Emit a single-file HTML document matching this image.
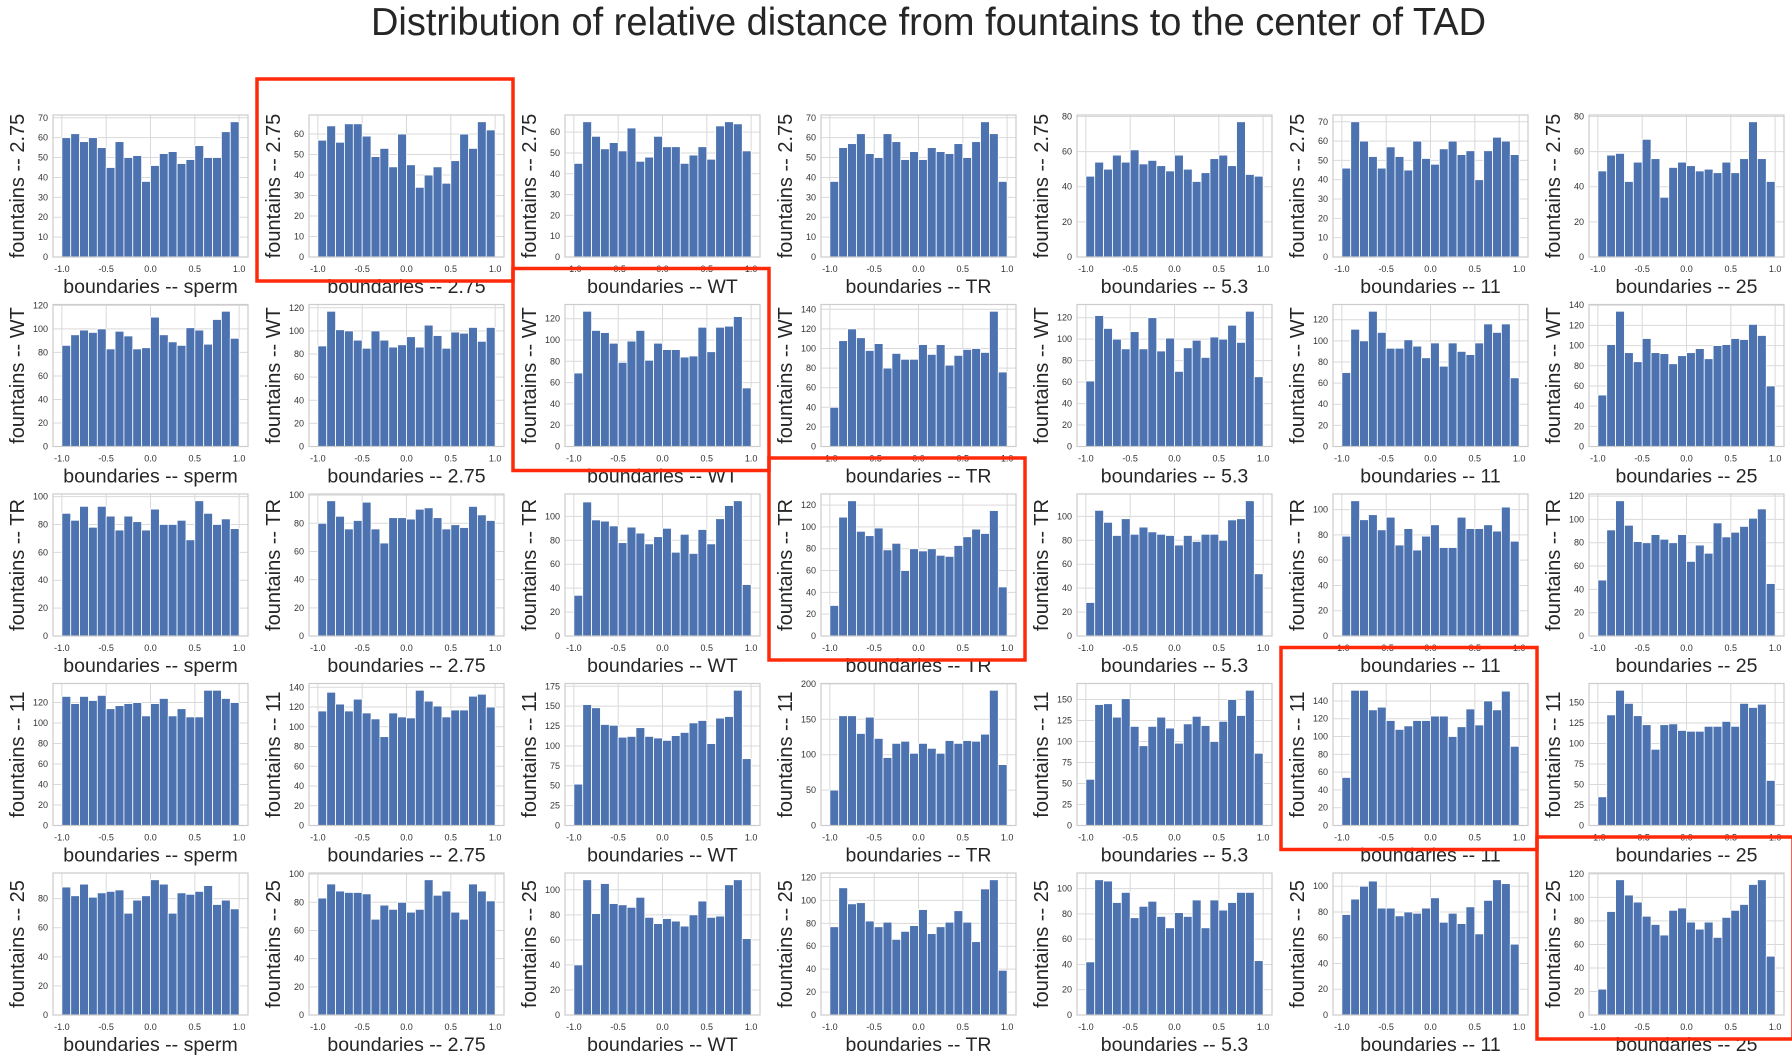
<!DOCTYPE html>
<html><head><meta charset="utf-8"><style>
html,body{margin:0;padding:0;background:#fff;}
svg{display:block;font-family:"Liberation Sans",Arial,sans-serif;}
</style></head><body>
<svg id="fig" width="1792" height="1062" viewBox="0 0 1792 1062" xmlns="http://www.w3.org/2000/svg">
<text x="371" y="35" font-size="39" fill="#262626" textLength="1115" lengthAdjust="spacingAndGlyphs">Distribution of relative distance from fountains to the center of TAD</text>
</svg>
<script>
const rowLabels = ["2.75","WT","TR","11","25"];
const colLabels = ["sperm","2.75","WT","TR","5.3","11","25"];
const xTickValues = [-1.0,-0.5,0.0,0.5,1.0];
const xTickLabels = ["-1.0","-0.5","0.0","0.5","1.0"];
const highlighted = [[0,1],[1,2],[2,3],[3,5],[4,6]];

const counts_f275 = [
[60,62,58,60,55,45,58,50,51,38,46,52,53,47,49,56,50,50,63,68],
[57,64,56,65,65,59,49,53,44,60,45,34,40,44,36,47,60,53,66,62],
[45,65,58,52,55,51,62,46,48,58,53,53,45,49,53,47,63,65,64,51],
[38,55,57,62,52,50,62,58,49,53,49,55,53,52,57,50,58,68,62,38],
[46,54,50,58,54,61,53,55,52,49,58,50,43,48,56,58,52,77,47,46],
[46,70,60,52,46,57,52,45,60,51,48,56,60,53,55,40,55,62,60,53],
[49,58,59,43,54,67,56,34,51,54,52,49,50,48,54,48,56,77,56,43]];
const counts_fWT = [
[86,95,99,97,100,83,98,94,83,84,110,95,89,86,101,99,87,108,115,92],
[87,117,101,100,92,85,100,92,86,88,95,86,105,96,85,99,98,103,91,103],
[69,127,109,107,97,79,99,109,81,97,91,91,84,85,112,89,112,113,122,55],
[40,108,120,111,98,105,80,95,89,89,104,94,104,83,93,99,100,96,138,76],
[61,122,110,100,91,107,91,120,89,101,70,92,99,83,102,100,113,97,126,65],
[70,111,100,128,108,93,93,101,95,84,98,76,98,90,87,98,116,108,116,65],
[51,101,134,93,84,107,93,92,82,90,93,97,87,100,101,107,106,121,110,60]];
const counts_fTR = [
[88,83,93,78,93,86,76,86,82,76,91,80,80,83,69,97,88,80,84,77],
[80,96,85,76,82,95,76,66,84,84,83,90,91,84,76,79,77,92,86,82],
[34,112,97,96,92,78,91,86,77,83,90,70,85,69,89,77,98,109,113,43],
[28,109,124,96,92,99,79,85,60,80,78,80,74,73,83,91,98,94,115,45],
[28,105,95,84,98,85,91,87,85,84,76,84,79,85,85,80,97,98,113,52],
[79,107,92,96,84,94,72,85,68,79,88,70,70,94,85,85,88,83,102,75],
[48,91,116,95,81,80,87,83,80,87,64,78,71,97,85,89,94,101,109,45]];
const counts_f11 = [
[126,119,126,122,127,114,117,119,120,107,119,124,107,114,106,106,132,132,124,120],
[116,135,123,116,128,114,108,90,114,110,109,137,126,121,110,117,117,131,133,120],
[52,152,148,127,126,111,112,123,112,110,107,113,117,129,132,103,135,137,170,84],
[50,155,155,130,153,123,96,116,119,102,116,109,102,120,116,120,119,129,191,86],
[55,144,145,129,151,118,95,118,129,116,98,121,130,119,100,124,150,131,161,86],
[54,152,152,130,133,118,108,112,118,118,123,123,100,111,131,113,140,130,151,89],
[35,135,165,149,134,123,93,123,124,116,115,115,121,121,127,121,149,144,148,55]];
const counts_f25 = [
[88,82,90,81,84,85,86,70,79,82,93,90,70,84,83,85,89,76,79,73],
[83,93,88,87,87,86,68,78,75,80,73,75,96,85,88,73,68,93,88,81],
[40,108,81,105,89,88,86,94,78,73,77,75,71,80,91,78,79,104,108,61],
[77,111,97,98,82,77,81,66,73,78,92,71,77,81,91,81,64,110,118,39],
[42,107,106,89,97,77,86,90,78,69,81,78,91,69,91,83,89,97,97,43],
[78,90,100,104,83,83,77,80,79,83,91,72,79,71,84,63,89,105,102,55],
[22,88,115,102,96,84,77,68,89,91,79,73,79,66,83,89,94,111,115,50]];
const allCounts = [counts_f275, counts_fWT, counts_fTR, counts_f11, counts_f25];

const NS = "http://www.w3.org/2000/svg";
const svg = document.getElementById('fig');
function mk(tag, attrs, parent){const e=document.createElementNS(NS,tag);for(const k in attrs)e.setAttribute(k,attrs[k]);(parent||svg).appendChild(e);return e;}
function niceStep(ymax){const cands=[1,2,2.5,5];let p=Math.pow(10,Math.floor(Math.log10(ymax))-1);for(let i=0;i<6;i++){for(const c of cands){const s=c*p;if(Math.ceil(ymax/s-1e-9)<=8)return s;}p*=10;}return p;}

const PW=195, PH=142, LEFT0=53, PITCHX=256, TOP0=115, PITCHY=189.5;
for(let r=0;r<5;r++){
  for(let c=0;c<7;c++){
    const data = allCounts[r][c];
    const L = LEFT0 + c*PITCHX, T = TOP0 + r*PITCHY, B = T+PH;
    const ymax = Math.max(...data)*1.05;
    const xs = v => L + (v+1.1)/2.2*PW;
    const ys = v => B - v/ymax*PH;
    const g = mk('g',{});
    
    
    const step = niceStep(ymax);
    for(let v=0; v<=ymax+1e-9; v+=step){
      const y=ys(v);
      const gl=mk('line',{x1:L,x2:L+PW,y1:y,y2:y,stroke:'#d9d9d9','stroke-width':1},g);
      
      
      const t=mk('text',{x:L-5,y:y+3,'font-size':9,fill:'#333','text-anchor':'end'},g);
      
      
      t.textContent = (Math.round(v*10)/10).toString();
    }
    xTickValues.forEach((v,i)=>{
      const x=xs(v);
      const gl=mk('line',{x1:x,x2:x,y1:T,y2:B,stroke:'#d9d9d9','stroke-width':1},g);
      
      
      const t=mk('text',{x:x,y:B+15,'font-size':9,fill:'#333','text-anchor':'middle'},g);
      
      
      t.textContent = xTickLabels[i];
    });
    data.forEach((v,i)=>{
      const x0=xs(-1+i*0.1), x1=xs(-1+(i+1)*0.1);
      const b=mk('rect',{x:x0,y:ys(v),width:x1-x0,height:B-ys(v),fill:'#4c72b0',stroke:'#fff','stroke-width':0.8},g);
      
      
    });
    const fr=mk('rect',{x:L,y:T,width:PW,height:PH,fill:'none',stroke:'#cccccc','stroke-width':1.2},g);
    
    
    const xl=mk('text',{x:L+PW/2,y:B+36,'font-size':19.5,fill:'#262626','text-anchor':'middle'},g);
    
    
    xl.textContent='boundaries -- '+colLabels[c];
    const yx=L-29, yc=T+PH/2;
    const yl=mk('text',{x:yx,y:yc,'font-size':20,fill:'#262626','text-anchor':'middle',transform:'rotate(-90 '+yx+' '+yc+')'},g);
    
    
    yl.textContent='fountains -- '+rowLabels[r];
  }
}
highlighted.forEach(([r,c])=>{
  const L = LEFT0 + c*PITCHX, T = TOP0 + r*PITCHY;
  const hb=mk('rect',{x:L-52,y:T-36,width:256,height:202,fill:'none',stroke:'#ff2a0a','stroke-width':3.5});
  
  
});
</script>
</body></html>
